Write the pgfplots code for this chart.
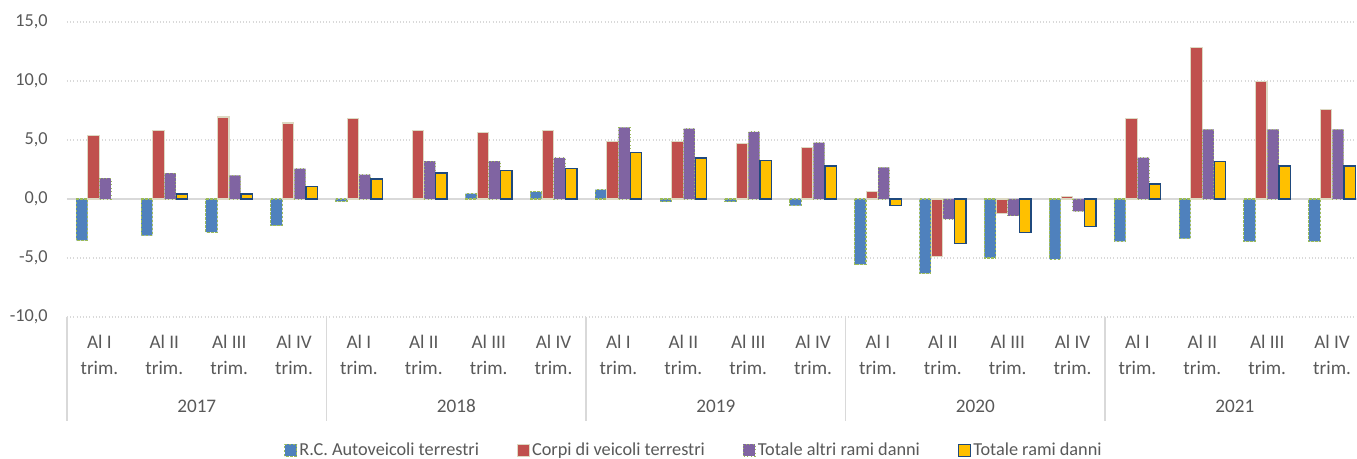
\documentclass[border=0pt]{standalone}
\usepackage{pgfplots}
\pgfplotsset{compat=1.18}
\usepackage{fontspec}
\setmainfont{Carlito}
\definecolor{cblue}{HTML}{4F81BD}
\definecolor{cred}{HTML}{C0504D}
\definecolor{cpurple}{HTML}{8064A2}
\definecolor{cyellow}{HTML}{FFC000}
\definecolor{cgreen}{HTML}{9BBB59}
\definecolor{cbeige}{HTML}{DDD9C3}
\definecolor{cnavy}{HTML}{1F497D}
\definecolor{ctext}{HTML}{595959}
\definecolor{cgrid}{HTML}{D9D9D9}
\tikzset{yearlab/.style={anchor=base, inner sep=0pt, text=ctext, font=\fontsize{14.4}{16}\selectfont, yshift=-72pt}}
\begin{document}
\begin{tikzpicture}
\begin{axis}[
  at={(0,0)}, anchor=south west,
  scale only axis, width=967.5pt, height=221.25pt,
  xmin=-0.5, xmax=19.384, ymin=-10, ymax=15,
  clip=false,
  ybar=0.3pt, bar width=8.5pt,
  axis line style={draw=none},
  tick style={draw=none},
  ytick={-10,-5,0,5,10,15},
  yticklabels={{-10,0},{-5,0},{0,0},{5,0},{10,0},{15,0}},
  ymajorgrids, major grid style={cgrid, dotted, line width=0.8pt},
  extra y ticks={0}, extra y tick labels={},
  extra y tick style={grid=major, major grid style={cgrid, solid, line width=1.2pt}},
  xtick={0,...,19},
  xticklabels={{Al I\\trim.},{Al II\\trim.},{Al III\\trim.},{Al IV\\trim.},
               {Al I\\trim.},{Al II\\trim.},{Al III\\trim.},{Al IV\\trim.},
               {Al I\\trim.},{Al II\\trim.},{Al III\\trim.},{Al IV\\trim.},
               {Al I\\trim.},{Al II\\trim.},{Al III\\trim.},{Al IV\\trim.},
               {Al I\\trim.},{Al II\\trim.},{Al III\\trim.},{Al IV\\trim.}},
  xticklabel style={align=center, anchor=north, inner sep=0pt, yshift=-9.3pt,
     font=\fontsize{14.4}{19.5}\selectfont, text=ctext},
  yticklabel style={anchor=east, inner sep=0pt, xshift=-14.25pt,
     font=\fontsize{13.7}{16}\selectfont, text=ctext},
  legend columns=4,
  legend style={at={(0.486,-0.452)}, anchor=center, draw=none,
     font=\fontsize{13.7}{16}\selectfont, text=ctext,
     nodes={inner xsep=1.5pt, inner ysep=1pt},
     /tikz/every even column/.append style={column sep=27pt}},
  legend image code/.code={\draw[#1] (0pt,-4.5pt) rectangle (9pt,4.5pt);},
]
\addplot[fill=cblue, draw=cgreen, line width=0.8pt, dash pattern=on 2pt off 1pt] coordinates {
 (0,-3.5) (1,-3.1) (2,-2.8) (3,-2.25) (4,-0.2) (6,0.45) (7,0.6)
 (8,0.79) (9,-0.25) (10,-0.25) (11,-0.57) (12,-5.55) (13,-6.3) (14,-5.0) (15,-5.1)
 (16,-3.6) (17,-3.35) (18,-3.6) (19,-3.6)};
\addplot[fill=cred, draw=cbeige, line width=0.8pt] coordinates {
 (0,5.36) (1,5.8) (2,6.95) (3,6.44) (4,6.8) (5,5.83) (6,5.66) (7,5.83)
 (8,4.9) (9,4.9) (10,4.72) (11,4.4) (12,0.65) (13,-4.87) (14,-1.19) (15,0.25)
 (16,6.85) (17,12.83) (18,9.97) (19,7.56)};
\addplot[fill=cpurple, draw=cgreen, line width=0.7pt, dotted] coordinates {
 (0,1.77) (1,2.2) (2,2.0) (3,2.57) (4,2.06) (5,3.2) (6,3.2) (7,3.48)
 (8,6.08) (9,5.97) (10,5.69) (11,4.78) (12,2.69) (13,-1.7) (14,-1.42) (15,-1.05)
 (16,3.5) (17,5.89) (18,5.89) (19,5.89)};
\addplot[fill=cyellow, draw=cnavy, line width=1pt] coordinates {
 (1,0.42) (2,0.42) (3,1.07) (4,1.7) (5,2.2) (6,2.43) (7,2.57)
 (8,3.96) (9,3.47) (10,3.28) (11,2.8) (12,-0.54) (13,-3.75) (14,-2.86) (15,-2.33)
 (16,1.27) (17,3.17) (18,2.8) (19,2.8)};
\legend{R.C. Autoveicoli terrestri, Corpi di veicoli terrestri, Totale altri rami danni, Totale rami danni}
\pgfplotsinvokeforeach{-0.5,3.5,7.5,11.5,15.5}{
  \draw[cgrid, line width=0.8pt] (axis cs:#1,-10) -- ([yshift=-78pt]axis cs:#1,-10);
}
\node[yearlab] at (axis cs:1.5,-10) {2017};
\node[yearlab] at (axis cs:5.5,-10) {2018};
\node[yearlab] at (axis cs:9.5,-10) {2019};
\node[yearlab] at (axis cs:13.5,-10) {2020};
\node[yearlab] at (axis cs:17.5,-10) {2021};
\end{axis}
\pgfresetboundingbox
\useasboundingbox (-50.25pt,-106.5pt) rectangle (967.5pt,237.75pt);
\end{tikzpicture}
\end{document}
